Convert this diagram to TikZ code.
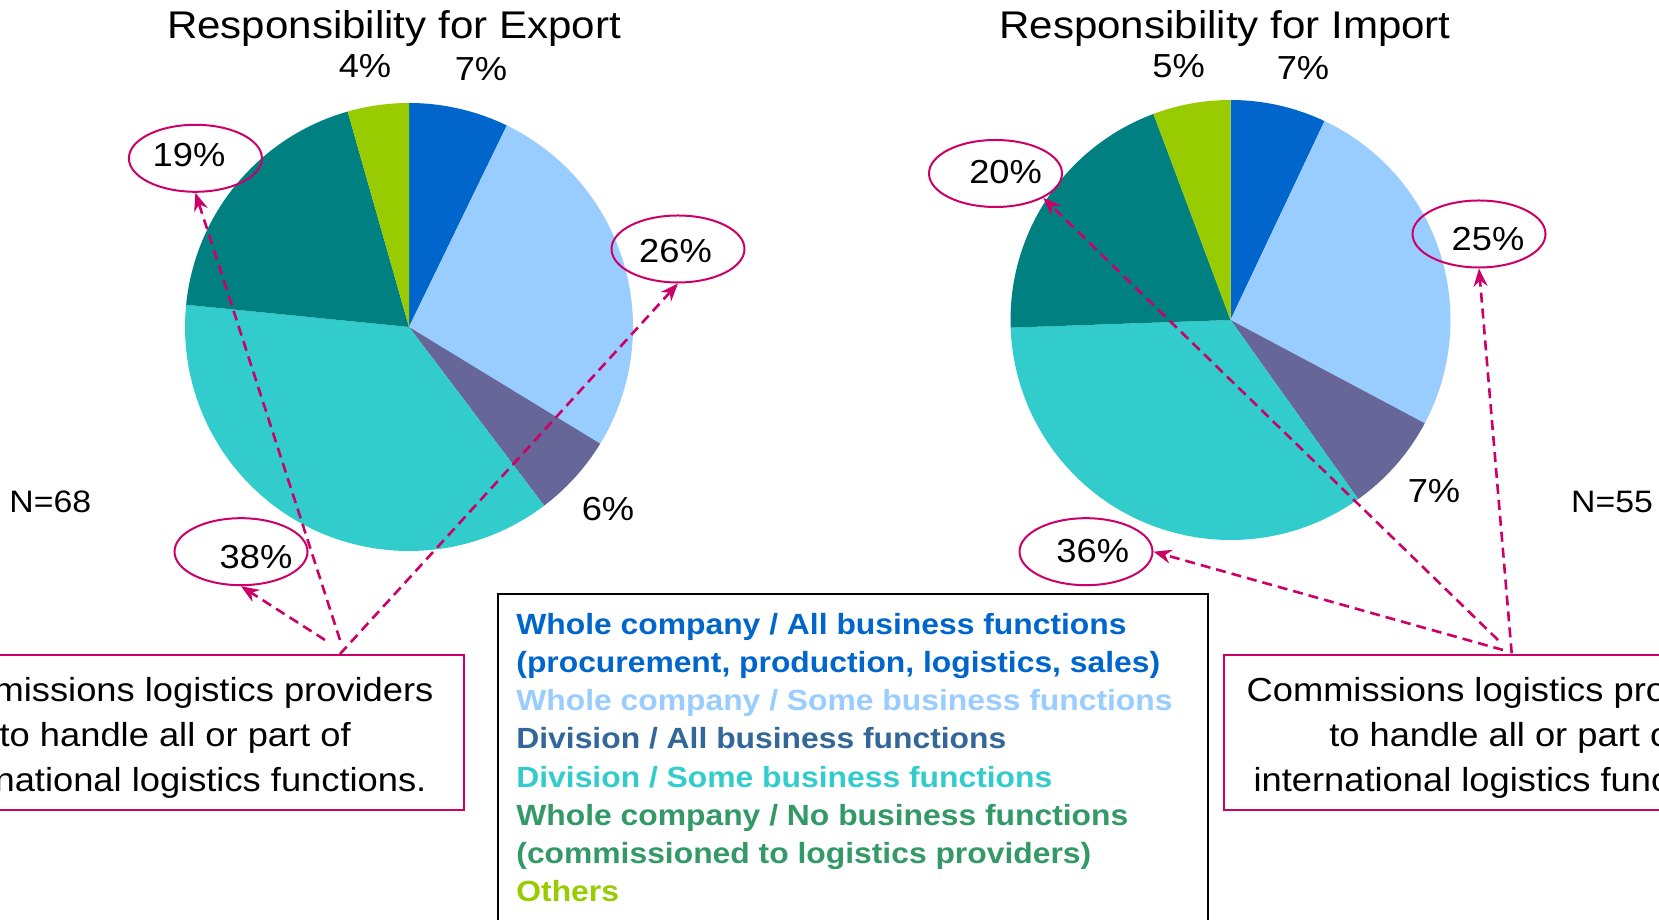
\documentclass[tikz,border=0pt]{standalone}
\usepackage{fontspec}
\setmainfont{Liberation Sans}[FakeStretch=1.09]
\usetikzlibrary{shapes.geometric,arrows.meta}
\definecolor{sliceBlue}{HTML}{0066CC}
\definecolor{sliceLight}{HTML}{99CCFF}
\definecolor{sliceSlate}{HTML}{666699}
\definecolor{sliceCyan}{HTML}{33CCCC}
\definecolor{sliceTeal}{HTML}{008080}
\definecolor{sliceLime}{HTML}{99CC00}
\definecolor{legSlate}{HTML}{336699}
\definecolor{legGreen}{HTML}{339966}
\definecolor{accent}{HTML}{CC0066}
\tikzstyle{title}=[anchor=base,inner sep=0pt,font=\fontsize{19.3}{23}\selectfont]
\tikzstyle{pct}=[anchor=base,inner sep=0pt,font=\fontsize{16.65}{20}\selectfont]
\tikzstyle{count}=[anchor=base,inner sep=0pt,font=\fontsize{15.5}{19}\selectfont]
\tikzstyle{pctring}=[ellipse,draw=accent,line width=1pt,minimum width=66.5pt,minimum height=33.5pt,inner sep=0pt]
\tikzstyle{callout}=[draw=accent,line width=0.8pt,align=center,minimum height=77.5pt,font=\fontsize{16.65}{22.5}\selectfont]
\tikzstyle{legtext}=[anchor=base west,inner sep=0pt,font=\bfseries\fontsize{14.6}{18}\selectfont]
\tikzstyle{pointer}=[draw=accent,line width=1.3pt,dash pattern=on 5pt off 3pt,-{Stealth[length=9pt,width=7pt]}]

\begin{document}
\begin{tikzpicture}[x=0.5pt,y=0.5pt]
  \useasboundingbox (0,0) rectangle (1659,920);
  \clip (0,0) rectangle (1659,920);
  \fill[white] (0,0) rectangle (1659,920);

  \coordinate (exc) at (409,593);
  \coordinate (imc) at (1230.5,600);
  \foreach \from/\to/\col in {90/64.1/sliceBlue, 64.1/-31.4/sliceLight, -31.4/-52.9/sliceSlate,
                              -52.9/-185.7/sliceCyan, -185.7/-254.1/sliceTeal, -254.1/-270/sliceLime}
    \fill[\col] (exc) -- ++(\from:224) arc[start angle=\from, end angle=\to, radius=224] -- cycle;
  \foreach \from/\to/\col in {90/64.7/sliceBlue, 64.7/-28/sliceLight, -28/-54.5/sliceSlate,
                              -54.5/-178/sliceCyan, -178/-249.5/sliceTeal, -249.5/-270/sliceLime}
    \fill[\col] (imc) -- ++(\from:220) arc[start angle=\from, end angle=\to, radius=220] -- cycle;

  \node[title] (extitle) at (394,881) {Responsibility for Export};
  \node[title] (imtitle) at (1225,881) {Responsibility for Import};

  \node[pct] (ex4) at (365,842.7) {4\%};
  \node[pct] (ex7) at (481,839) {7\%};
  \node[pct] (ex6) at (608,399) {6\%};
  \node[count] (exn) at (50.3,407) {N=68};
  \node[pct] (im5) at (1178.6,842.7) {5\%};
  \node[pct] (im7) at (1303,840) {7\%};
  \node[pct] (im7b) at (1434,417.3) {7\%};
  \node[count] (imn) at (1612,407) {N=55};

  \node[pctring] (ex19) at (195.4,761.7) {};
  \node[pctring] (ex26) at (678,671) {};
  \node[pctring] (ex38) at (241,368.3) {};
  \node[pctring] (im20) at (995.5,746.5) {};
  \node[pctring] (im25) at (1479,686) {};
  \node[pctring] (im36) at (1086,368.3) {};
  \node[pct] at (189,753.3) {19\%};
  \node[pct] at (675.5,657) {26\%};
  \node[pct] at (256,351) {38\%};
  \node[pct] at (1005.6,736) {20\%};
  \node[pct] at (1488,669) {25\%};
  \node[pct] at (1092.7,357.3) {36\%};

  \node[callout,anchor=north east,minimum width=289pt] (exbox) at (465,266)
    {\rule{0pt}{17.3pt}Commissions logistics providers\\ to handle all or part of\\ international logistics functions.};
  \node[callout,anchor=north west,minimum width=281pt] (imbox) at (1223,266)
    {\rule{0pt}{17.3pt}Commissions logistics providers\\ to handle all or part of\\ international logistics functions.};

  \coordinate (exA) at (325,280);
  \coordinate (exB) at (340,280);
  \coordinate (exC) at (340,266);
  \coordinate (imA) at (1498,280);
  \coordinate (imB) at (1503,270);
  \coordinate (imC) at (1511.7,266.7);
  \draw[pointer] (exA) -- (ex38.south);
  \draw[pointer] (exB) -- (ex19.south);
  \draw[pointer] (exC) -- (ex26.south);
  \draw[pointer] (imA) -- (im20.south east);
  \draw[pointer] (imB) -- (im36.east);
  \draw[pointer] (imC) -- (im25.south);

  \node[draw=black,line width=1pt,anchor=north west,minimum width=355pt,minimum height=180pt] (legbox) at (496.5,326.7) {};
  \foreach \n/\col/\txt in {0/sliceBlue/{Whole company / All business functions},
                            1/sliceBlue/{(procurement, production, logistics, sales)},
                            2/sliceLight/{Whole company / Some business functions},
                            3/legSlate/{Division / All business functions},
                            4/sliceCyan/{Division / Some business functions},
                            5/legGreen/{Whole company / No business functions},
                            6/legGreen/{(commissioned to logistics providers)},
                            7/sliceLime/{Others}}
    \node[legtext,text=\col] (leg-\n) at (516,285.7-38.2*\n) {\txt};
\end{tikzpicture}
\end{document}
